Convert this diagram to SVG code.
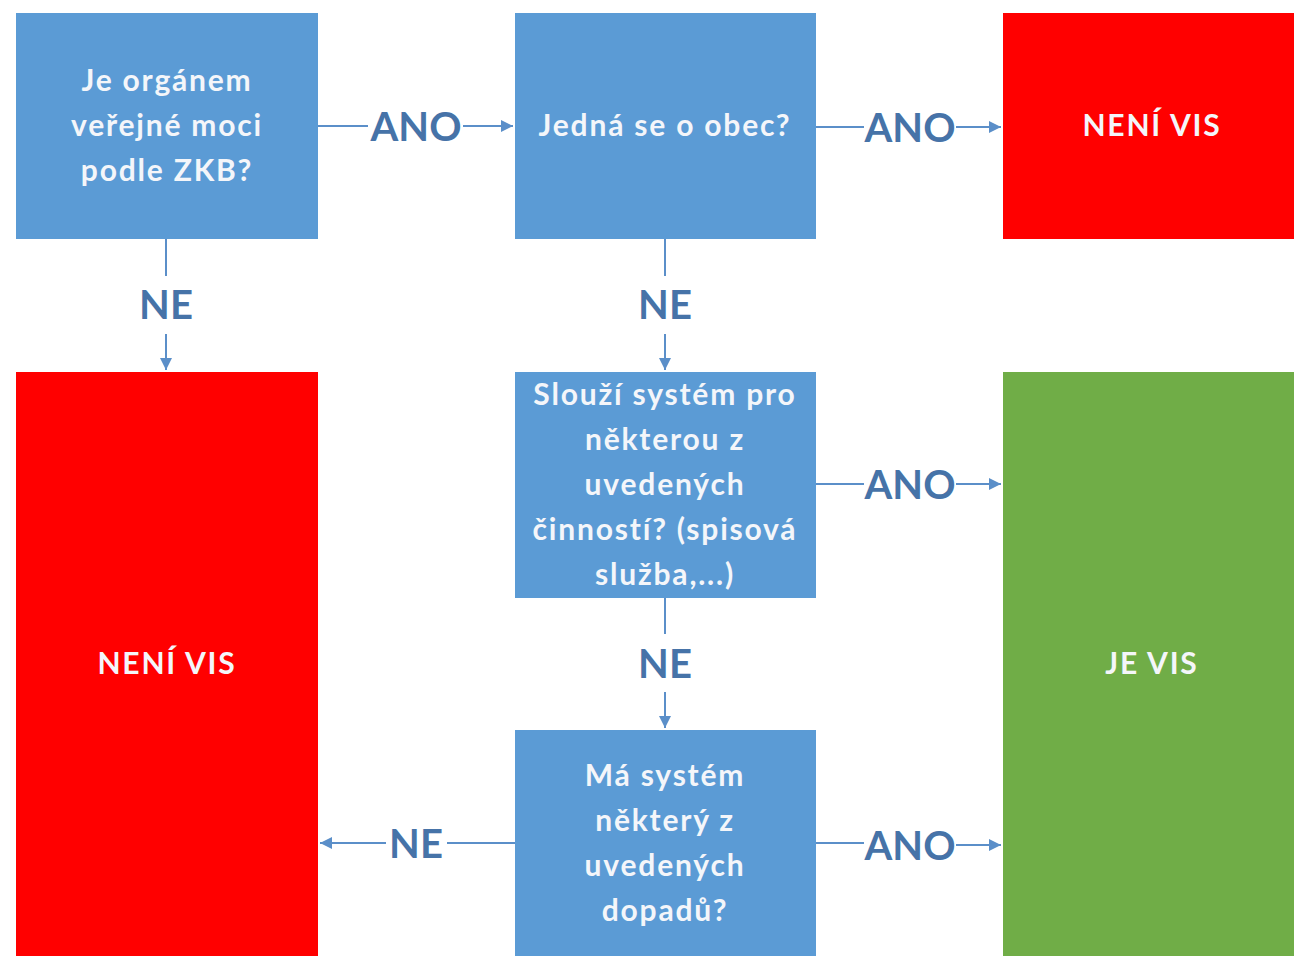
<svg xmlns="http://www.w3.org/2000/svg" width="1294" height="956" viewBox="0 0 1294 956">
  <style>
    .q { fill: #5B9BD5; }
    .no { fill: #FF0000; }
    .yes { fill: #70AD47; }
    .t { font-family: Lato, "Open Sans", sans-serif; font-weight: bold; font-size: 30px; letter-spacing: 1.8px; fill: #F4F6FA; text-anchor: middle; }
    .lbl { font-family: Lato, "Open Sans", sans-serif; font-weight: bold; font-size: 40px; fill: #4673A8; text-anchor: middle; dominant-baseline: central; }
    .ln { stroke: #5B8FC9; stroke-width: 2; fill: none; }
  </style>
  <defs>
    <marker id="ah" viewBox="0 0 10 10" refX="10" refY="5" markerWidth="6" markerHeight="6" orient="auto" markerUnits="strokeWidth">
      <path d="M0,0 L10,5 L0,10 z" fill="#5B8FC9"/>
    </marker>
  </defs>
  <rect width="1294" height="956" fill="#FFFFFF"/>

  <g id="n-organ">
    <rect class="q" x="16" y="13" width="302" height="226"/>
    <text class="t" x="167" y="91">Je orgánem</text>
    <text class="t" x="167" y="136">veřejné moci</text>
    <text class="t" x="167" y="181">podle ZKB?</text>
  </g>
  <g id="n-obec">
    <rect class="q" x="515" y="13" width="301" height="226"/>
    <text class="t" x="665" y="136">Jedná se o obec?</text>
  </g>
  <g id="n-nevis-top">
    <rect class="no" x="1003" y="13" width="291" height="226"/>
    <text class="t" x="1152" y="136">NENÍ VIS</text>
  </g>
  <g id="n-nevis-left">
    <rect class="no" x="16" y="372" width="302" height="584"/>
    <text class="t" x="167" y="674">NENÍ VIS</text>
  </g>
  <g id="n-cinnosti">
    <rect class="q" x="515" y="372" width="301" height="226"/>
    <text class="t" x="665" y="405">Slouží systém pro</text>
    <text class="t" x="665" y="450">některou z</text>
    <text class="t" x="665" y="495">uvedených</text>
    <text class="t" x="665" y="540">činností? (spisová</text>
    <text class="t" x="665" y="585">služba,...)</text>
  </g>
  <g id="n-jevis">
    <rect class="yes" x="1003" y="372" width="291" height="584"/>
    <text class="t" x="1152" y="674">JE VIS</text>
  </g>
  <g id="n-dopady">
    <rect class="q" x="515" y="730" width="301" height="226"/>
    <text class="t" x="665" y="786">Má systém</text>
    <text class="t" x="665" y="831">některý z</text>
    <text class="t" x="665" y="876">uvedených</text>
    <text class="t" x="665" y="921">dopadů?</text>
  </g>

  <g id="connectors">
    <!-- organ -> obec -->
    <line class="ln" x1="318" y1="126" x2="368" y2="126"/>
    <line class="ln" x1="463" y1="126" x2="513" y2="126" marker-end="url(#ah)"/>
    <text class="lbl" x="416" y="126">ANO</text>
    <!-- obec -> nevis top -->
    <line class="ln" x1="816" y1="127" x2="864" y2="127"/>
    <line class="ln" x1="956" y1="127" x2="1001" y2="127" marker-end="url(#ah)"/>
    <text class="lbl" x="910" y="127">ANO</text>
    <!-- organ -> nevis left -->
    <line class="ln" x1="166" y1="239" x2="166" y2="276"/>
    <line class="ln" x1="166" y1="334" x2="166" y2="370" marker-end="url(#ah)"/>
    <text class="lbl" x="166" y="304">NE</text>
    <!-- obec -> cinnosti -->
    <line class="ln" x1="665" y1="239" x2="665" y2="276"/>
    <line class="ln" x1="665" y1="334" x2="665" y2="370" marker-end="url(#ah)"/>
    <text class="lbl" x="665" y="304">NE</text>
    <!-- cinnosti -> je vis -->
    <line class="ln" x1="816" y1="484" x2="864" y2="484"/>
    <line class="ln" x1="956" y1="484" x2="1001" y2="484" marker-end="url(#ah)"/>
    <text class="lbl" x="910" y="484">ANO</text>
    <!-- cinnosti -> dopady -->
    <line class="ln" x1="665" y1="598" x2="665" y2="634"/>
    <line class="ln" x1="665" y1="692" x2="665" y2="728" marker-end="url(#ah)"/>
    <text class="lbl" x="665" y="663">NE</text>
    <!-- dopady -> je vis -->
    <line class="ln" x1="816" y1="843" x2="864" y2="843"/>
    <line class="ln" x1="956" y1="845" x2="1001" y2="845" marker-end="url(#ah)"/>
    <text class="lbl" x="910" y="845">ANO</text>
    <!-- dopady -> nevis left -->
    <line class="ln" x1="515" y1="843" x2="447" y2="843"/>
    <line class="ln" x1="386" y1="843" x2="320" y2="843" marker-end="url(#ah)"/>
    <text class="lbl" x="416" y="843">NE</text>
  </g>
</svg>
